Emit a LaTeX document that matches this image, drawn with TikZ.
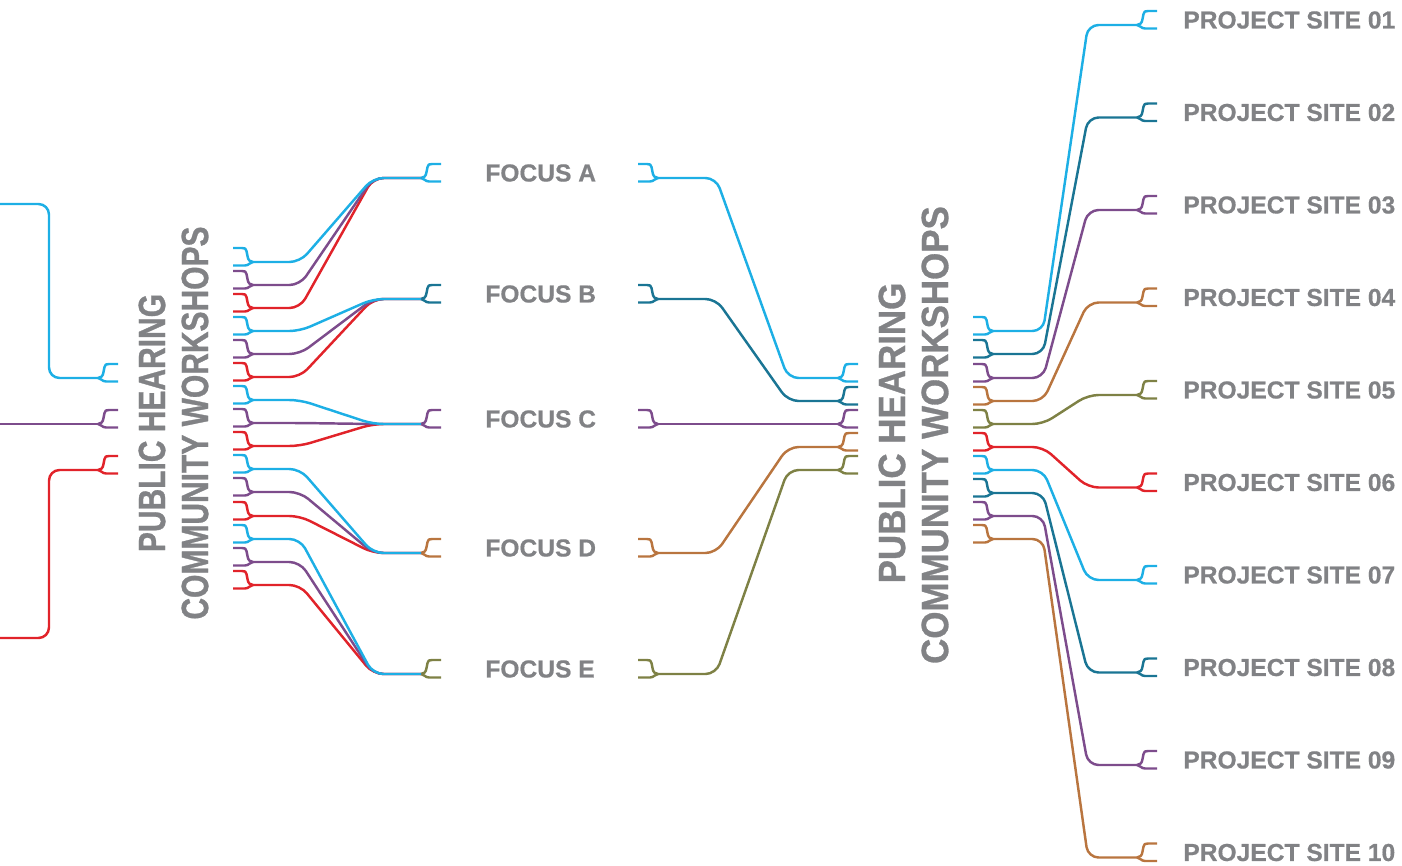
\documentclass[tikz,border=0pt]{standalone}
\usepackage{fontspec}
\setmainfont{Liberation Sans}[BoldFeatures={FakeBold=0.6}]
\newfontfamily\titlenarrow{Liberation Sans}[FakeStretch=0.79,BoldFeatures={FakeBold=0.8}]
\newfontfamily\titlewide{Liberation Sans}[FakeStretch=0.92,BoldFeatures={FakeBold=0.8}]
\usetikzlibrary{calc}
\definecolor{wireCyan}{RGB}{29,175,229}
\definecolor{wireTeal}{RGB}{26,117,148}
\definecolor{wirePurple}{RGB}{125,76,140}
\definecolor{wireOrange}{RGB}{185,117,63}
\definecolor{wireOlive}{RGB}{126,129,69}
\definecolor{wireRed}{RGB}{225,35,42}
\definecolor{textGray}{RGB}{129,130,133}
\tikzset{
	forkr/.pic={
		\coordinate (-stem) at (0,0);
		\draw[line width=1.4pt,line join=round] (0,0) .. controls (3,0) and (5,-2) .. (5.5,-6) -- (6.5,-11) .. controls (7,-13.5) and (8,-14) .. (11,-14) -- (20,-14);
		\draw[line width=1.4pt,line join=round] (0,0) .. controls (3,0) and (4,3.5) .. (8,3.5) -- (20,3.5);
	},
	forkl/.pic={
		\coordinate (-stem) at (0,0);
		\draw[line width=1.4pt,line join=round] (0,0) .. controls (-3,0) and (-5,-2) .. (-5.5,-6) -- (-6.5,-11) .. controls (-7,-13.5) and (-8,-14) .. (-11,-14) -- (-20,-14);
		\draw[line width=1.4pt,line join=round] (0,0) .. controls (-3,0) and (-4,3.5) .. (-8,3.5) -- (-20,3.5);
	},
}
\begin{document}
\begin{tikzpicture}[x=0.02cm,y=-0.02cm,
		wire/.style={line width=1.4pt,rounded corners=6pt},
		tag/.style={anchor=west,inner sep=0,text=textGray,font=\bfseries\fontsize{14}{16}\selectfont},
		slim title/.style={rotate=90,inner sep=0,text=textGray,font=\titlenarrow\bfseries\fontsize{21.6}{24}\selectfont},
		wide title/.style={rotate=90,inner sep=0,text=textGray,font=\titlewide\bfseries\fontsize{21.6}{24}\selectfont}]
	\useasboundingbox (0,0) rectangle (1402,865);
	% incoming lines
	\coordinate (edgeC) at (0,204);
	\coordinate (edgeP) at (0,424);
	\coordinate (edgeR) at (0,638);
	\pic[wireCyan] (h1) at (98,378) {forkr};
	\pic[wirePurple] (h2) at (98,424) {forkr};
	\pic[wireRed] (h3) at (98,470) {forkr};
	\draw[wire,wireCyan] (edgeC) -| ($(h1-stem)+(-49,0)$) -- (h1-stem);
	\draw[wire,wirePurple] (edgeP) -- (h2-stem);
	\draw[wire,wireRed] (edgeR) -| ($(h3-stem)+(-49,0)$) -- (h3-stem);
	\node[slim title] (hearL) at (152,423) {PUBLIC HEARING};
	\node[slim title] (workL) at (195,423) {COMMUNITY WORKSHOPS};
	% workshop outputs
	\pic[wireCyan] (w01) at (253,262) {forkl};
	\pic[wirePurple] (w02) at (253,285) {forkl};
	\pic[wireRed] (w03) at (253,308) {forkl};
	\pic[wireCyan] (w04) at (253,331) {forkl};
	\pic[wirePurple] (w05) at (253,354) {forkl};
	\pic[wireRed] (w06) at (253,377) {forkl};
	\pic[wireCyan] (w07) at (253,400) {forkl};
	\pic[wirePurple] (w08) at (253,423) {forkl};
	\pic[wireRed] (w09) at (253,446) {forkl};
	\pic[wireCyan] (w10) at (253,469) {forkl};
	\pic[wirePurple] (w11) at (253,492) {forkl};
	\pic[wireRed] (w12) at (253,516) {forkl};
	\pic[wireCyan] (w13) at (253,539) {forkl};
	\pic[wirePurple] (w14) at (253,562) {forkl};
	\pic[wireRed] (w15) at (253,585) {forkl};
	% focus areas
	\pic[wireCyan] (inA) at (421,178) {forkr};
	\pic[wireTeal] (inB) at (421,299) {forkr};
	\pic[wirePurple] (inC) at (421,424) {forkr};
	\pic[wireOrange] (inD) at (421,553) {forkr};
	\pic[wireOlive] (inE) at (421,674) {forkr};
	\node[tag] (focusA) at ($(inA-stem)+(64,-5)$) {FOCUS A};
	\node[tag] (focusB) at ($(inB-stem)+(64,-5)$) {FOCUS B};
	\node[tag] (focusC) at ($(inC-stem)+(64,-5)$) {FOCUS C};
	\node[tag] (focusD) at ($(inD-stem)+(64,-5)$) {FOCUS D};
	\node[tag] (focusE) at ($(inE-stem)+(64,-5)$) {FOCUS E};
	\pic[wireCyan] (outA) at (658,178) {forkl};
	\pic[wireTeal] (outB) at (658,299) {forkl};
	\pic[wirePurple] (outC) at (658,424) {forkl};
	\pic[wireOrange] (outD) at (658,553) {forkl};
	\pic[wireOlive] (outE) at (658,674) {forkl};
	\draw[wire,wireRed] (w03-stem) -- +(47,0) -- ($(inA-stem)+(-48,0)$) -- (inA-stem);
	\draw[wire,wirePurple] (w02-stem) -- +(47,0) -- ($(inA-stem)+(-48,0)$) -- (inA-stem);
	\draw[wire,wireCyan] (w01-stem) -- +(47,0) -- ($(inA-stem)+(-48,0)$) -- (inA-stem);
	\draw[wire,wireRed] (w06-stem) -- +(47,0) -- ($(inB-stem)+(-48,0)$) -- (inB-stem);
	\draw[wire,wirePurple] (w05-stem) -- +(47,0) -- ($(inB-stem)+(-48,0)$) -- (inB-stem);
	\draw[wire,wireCyan] (w04-stem) -- +(47,0) -- ($(inB-stem)+(-48,0)$) -- (inB-stem);
	\draw[wire,wireRed] (w09-stem) -- +(47,0) -- ($(inC-stem)+(-48,0)$) -- (inC-stem);
	\draw[wire,wirePurple] (w08-stem) -- +(47,0) -- ($(inC-stem)+(-48,0)$) -- (inC-stem);
	\draw[wire,wireCyan] (w07-stem) -- +(47,0) -- ($(inC-stem)+(-48,0)$) -- (inC-stem);
	\draw[wire,wireRed] (w12-stem) -- +(47,0) -- ($(inD-stem)+(-48,0)$) -- (inD-stem);
	\draw[wire,wirePurple] (w11-stem) -- +(47,0) -- ($(inD-stem)+(-48,0)$) -- (inD-stem);
	\draw[wire,wireCyan] (w10-stem) -- +(47,0) -- ($(inD-stem)+(-48,0)$) -- (inD-stem);
	\draw[wire,wireRed] (w15-stem) -- +(47,0) -- ($(inE-stem)+(-48,0)$) -- (inE-stem);
	\draw[wire,wirePurple] (w14-stem) -- +(47,0) -- ($(inE-stem)+(-48,0)$) -- (inE-stem);
	\draw[wire,wireCyan] (w13-stem) -- +(47,0) -- ($(inE-stem)+(-48,0)$) -- (inE-stem);
	% second hearing
	\pic[wireCyan] (hubA) at (838,378) {forkr};
	\pic[wireTeal] (hubB) at (838,401) {forkr};
	\pic[wirePurple] (hubC) at (838,424) {forkr};
	\pic[wireOrange] (hubD) at (838,447) {forkr};
	\pic[wireOlive] (hubE) at (838,470) {forkr};
	\draw[wire,wireCyan] (outA-stem) -- +(58,0) -- ($(hubA-stem)+(-50,0)$) -- (hubA-stem);
	\draw[wire,wireTeal] (outB-stem) -- +(58,0) -- ($(hubB-stem)+(-50,0)$) -- (hubB-stem);
	\draw[wire,wirePurple] (outC-stem) -- (hubC-stem);
	\draw[wire,wireOrange] (outD-stem) -- +(58,0) -- ($(hubD-stem)+(-50,0)$) -- (hubD-stem);
	\draw[wire,wireOlive] (outE-stem) -- +(58,0) -- ($(hubE-stem)+(-50,0)$) -- (hubE-stem);
	\node[wide title] (hearR) at (892,433) {PUBLIC HEARING};
	\node[wide title] (workR) at (935,435) {COMMUNITY WORKSHOPS};
	% project sites
	\pic[wireCyan] (p01) at (993,331) {forkl};
	\pic[wireTeal] (p02) at (993,354) {forkl};
	\pic[wirePurple] (p03) at (993,378) {forkl};
	\pic[wireOrange] (p04) at (993,401) {forkl};
	\pic[wireOlive] (p05) at (993,424) {forkl};
	\pic[wireRed] (p06) at (993,447) {forkl};
	\pic[wireCyan] (p07) at (993,470) {forkl};
	\pic[wireTeal] (p08) at (993,493) {forkl};
	\pic[wirePurple] (p09) at (993,516) {forkl};
	\pic[wireOrange] (p10) at (993,539) {forkl};
	\pic[wireCyan] (s01) at (1137,25) {forkr};
	\pic[wireTeal] (s02) at (1137,117.5) {forkr};
	\pic[wirePurple] (s03) at (1137,210) {forkr};
	\pic[wireOrange] (s04) at (1137,302.5) {forkr};
	\pic[wireOlive] (s05) at (1137,395) {forkr};
	\pic[wireRed] (s06) at (1137,487.5) {forkr};
	\pic[wireCyan] (s07) at (1137,580) {forkr};
	\pic[wireTeal] (s08) at (1137,672.5) {forkr};
	\pic[wirePurple] (s09) at (1137,765) {forkr};
	\pic[wireOrange] (s10) at (1137,857.5) {forkr};
	\node[tag] (site01) at ($(s01-stem)+(46,-5)$) {PROJECT SITE 01};
	\node[tag] (site02) at ($(s02-stem)+(46,-5)$) {PROJECT SITE 02};
	\node[tag] (site03) at ($(s03-stem)+(46,-5)$) {PROJECT SITE 03};
	\node[tag] (site04) at ($(s04-stem)+(46,-5)$) {PROJECT SITE 04};
	\node[tag] (site05) at ($(s05-stem)+(46,-5)$) {PROJECT SITE 05};
	\node[tag] (site06) at ($(s06-stem)+(46,-5)$) {PROJECT SITE 06};
	\node[tag] (site07) at ($(s07-stem)+(46,-5)$) {PROJECT SITE 07};
	\node[tag] (site08) at ($(s08-stem)+(46,-5)$) {PROJECT SITE 08};
	\node[tag] (site09) at ($(s09-stem)+(46,-5)$) {PROJECT SITE 09};
	\node[tag] (site10) at ($(s10-stem)+(46,-5)$) {PROJECT SITE 10};
	\draw[wire,wireCyan] (p01-stem) -- +(50,0) -- ($(s01-stem)+(-49,0)$) -- (s01-stem);
	\draw[wire,wireTeal] (p02-stem) -- +(50,0) -- ($(s02-stem)+(-49,0)$) -- (s02-stem);
	\draw[wire,wirePurple] (p03-stem) -- +(50,0) -- ($(s03-stem)+(-49,0)$) -- (s03-stem);
	\draw[wire,wireOrange] (p04-stem) -- +(50,0) -- ($(s04-stem)+(-49,0)$) -- (s04-stem);
	\draw[wire,wireOlive] (p05-stem) -- +(50,0) -- ($(s05-stem)+(-49,0)$) -- (s05-stem);
	\draw[wire,wireRed] (p06-stem) -- +(50,0) -- ($(s06-stem)+(-49,0)$) -- (s06-stem);
	\draw[wire,wireCyan] (p07-stem) -- +(50,0) -- ($(s07-stem)+(-49,0)$) -- (s07-stem);
	\draw[wire,wireTeal] (p08-stem) -- +(50,0) -- ($(s08-stem)+(-49,0)$) -- (s08-stem);
	\draw[wire,wirePurple] (p09-stem) -- +(50,0) -- ($(s09-stem)+(-49,0)$) -- (s09-stem);
	\draw[wire,wireOrange] (p10-stem) -- +(50,0) -- ($(s10-stem)+(-49,0)$) -- (s10-stem);
\end{tikzpicture}
\end{document}
